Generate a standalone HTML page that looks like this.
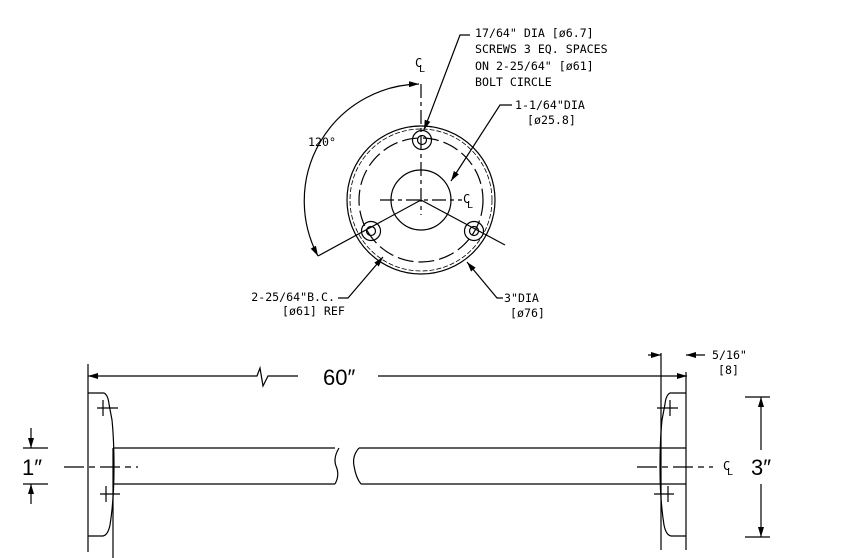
<!DOCTYPE html>
<html><head><style>
html,body{margin:0;padding:0;background:#fff;width:850px;height:558px;overflow:hidden}
svg text{font-family:"DejaVu Sans Mono","Liberation Mono",monospace;fill:#000}
</style></head><body>
<svg width="850" height="558" viewBox="0 0 850 558" xmlns="http://www.w3.org/2000/svg">
<defs>
<marker id="a" viewBox="0 0 10 6" refX="10" refY="3" markerWidth="10" markerHeight="6" orient="auto-start-reverse" markerUnits="userSpaceOnUse"><path d="M0,0L10,3L0,6z" fill="#000"/></marker>
</defs>
<g stroke="#000" fill="none" stroke-width="1.2">
<circle cx="421" cy="200" r="74"/>
<circle cx="421" cy="200" r="71" stroke-dasharray="5 2" stroke-width="0.8"/>
<circle cx="421" cy="200" r="62" stroke-dasharray="16 5"/>
<circle cx="421" cy="200" r="30"/>
<circle cx="422" cy="140" r="9.5"/><circle cx="422" cy="140" r="4.5"/>
<circle cx="371" cy="231" r="9.5"/><circle cx="371" cy="231" r="4.5"/>
<circle cx="474" cy="231" r="9.5"/><circle cx="474" cy="231" r="4.5"/>
<line x1="421" y1="84" x2="421" y2="215" stroke-dasharray="14 4 4 4"/>
<line x1="380" y1="200" x2="462" y2="200" stroke-dasharray="14 4 4 4"/>
<line x1="421" y1="200" x2="318" y2="256"/>
<line x1="421" y1="200" x2="505" y2="245"/>
<path d="M419,84 A117,117 0 0 0 318,256" marker-start="url(#a)" marker-end="url(#a)"/>
<polyline points="470,35 460,35 424,130" marker-end="url(#a)"/>
<polyline points="512,105 500,105 451,181" marker-end="url(#a)"/>
<polyline points="503,298 497,298 467,262" marker-end="url(#a)"/>
<polyline points="338,298 348,298 383,257" marker-end="url(#a)"/>
<line x1="88" y1="376" x2="250" y2="376" marker-start="url(#a)"/>
<polyline points="250,376 257,376 260,368 263,386 268,376 298,376"/>
<line x1="378" y1="376" x2="687" y2="376" marker-end="url(#a)"/>
<line x1="88" y1="364" x2="88" y2="552"/>
<line x1="113" y1="448" x2="113" y2="558"/>
<path d="M88,393 H104 Q108,395 109,404 L112,420 Q114,440 114,467 Q114,500 110,525 Q108,535 103,536 H88" />
<line x1="113" y1="448" x2="335" y2="448"/>
<line x1="113" y1="484" x2="335" y2="484"/>
<path d="M339,448 Q333,458 336,466 Q340,475 335,484"/>
<path d="M359,448 Q352,456 354,466 Q356,478 361,484"/>
<line x1="359" y1="448" x2="686" y2="448"/>
<line x1="361" y1="484" x2="686" y2="484"/>
<line x1="64" y1="467" x2="138" y2="467" stroke-dasharray="20 5 6 5"/>
<line x1="97" y1="408" x2="118" y2="408"/><line x1="103" y1="400" x2="103" y2="416"/>
<line x1="100" y1="494" x2="120" y2="494"/><line x1="106" y1="486" x2="106" y2="502"/>
<line x1="23" y1="448" x2="48" y2="448"/><line x1="23" y1="484" x2="48" y2="484"/>
<line x1="31" y1="428" x2="31" y2="448" marker-end="url(#a)"/>
<line x1="31" y1="504" x2="31" y2="484" marker-end="url(#a)"/>
<line x1="686" y1="372" x2="686" y2="550"/>
<line x1="661" y1="353" x2="661" y2="550"/>
<path d="M686,393 H670 Q666,395 665,404 L662,420 Q660,440 660,467 Q660,500 664,525 Q666,535 671,536 H686"/>
<line x1="657" y1="408" x2="678" y2="408"/><line x1="670" y1="400" x2="670" y2="416"/>
<line x1="654" y1="494" x2="674" y2="494"/><line x1="668" y1="486" x2="668" y2="502"/>
<line x1="637" y1="467" x2="713" y2="467" stroke-dasharray="20 5 6 5"/>
<line x1="648" y1="355" x2="661" y2="355" marker-end="url(#a)"/>
<line x1="705" y1="355" x2="686" y2="355" marker-end="url(#a)"/>
<line x1="745" y1="397" x2="770" y2="397"/><line x1="745" y1="537" x2="770" y2="537"/>
<line x1="761" y1="450" x2="761" y2="397" marker-end="url(#a)"/>
<line x1="761" y1="484" x2="761" y2="537" marker-end="url(#a)"/>
</g>
<g font-size="11.6">
<text x="475" y="37">17/64" DIA [ø6.7]</text>
<text x="475" y="53">SCREWS 3 EQ. SPACES</text>
<text x="475" y="70">ON 2-25/64" [ø61]</text>
<text x="475" y="86">BOLT CIRCLE</text>
<text x="515" y="109">1-1/64"DIA</text>
<text x="527" y="124">[ø25.8]</text>
<text x="308" y="146">120°</text>
<text x="504" y="302">3"DIA</text>
<text x="510" y="317">[ø76]</text>
<text x="335" y="301" text-anchor="end">2-25/64"B.C.</text>
<text x="282" y="315">[ø61] REF</text>
<text x="712" y="359">5/16"</text>
<text x="718" y="374">[8]</text>
<text x="415" y="67" font-size="12">C</text><text x="419" y="72" font-size="10">L</text>
<text x="463" y="203" font-size="12">C</text><text x="467" y="208" font-size="10">L</text>
<text x="723" y="470" font-size="12">C</text><text x="727" y="475" font-size="10">L</text>
</g>
<text x="323" y="385" font-size="22" style="font-family:'Liberation Sans',sans-serif">60″</text>
<text x="22" y="475" font-size="22" style="font-family:'Liberation Sans',sans-serif">1″</text>
<text x="751" y="475" font-size="22" style="font-family:'Liberation Sans',sans-serif">3″</text>
</svg>
</body></html>
